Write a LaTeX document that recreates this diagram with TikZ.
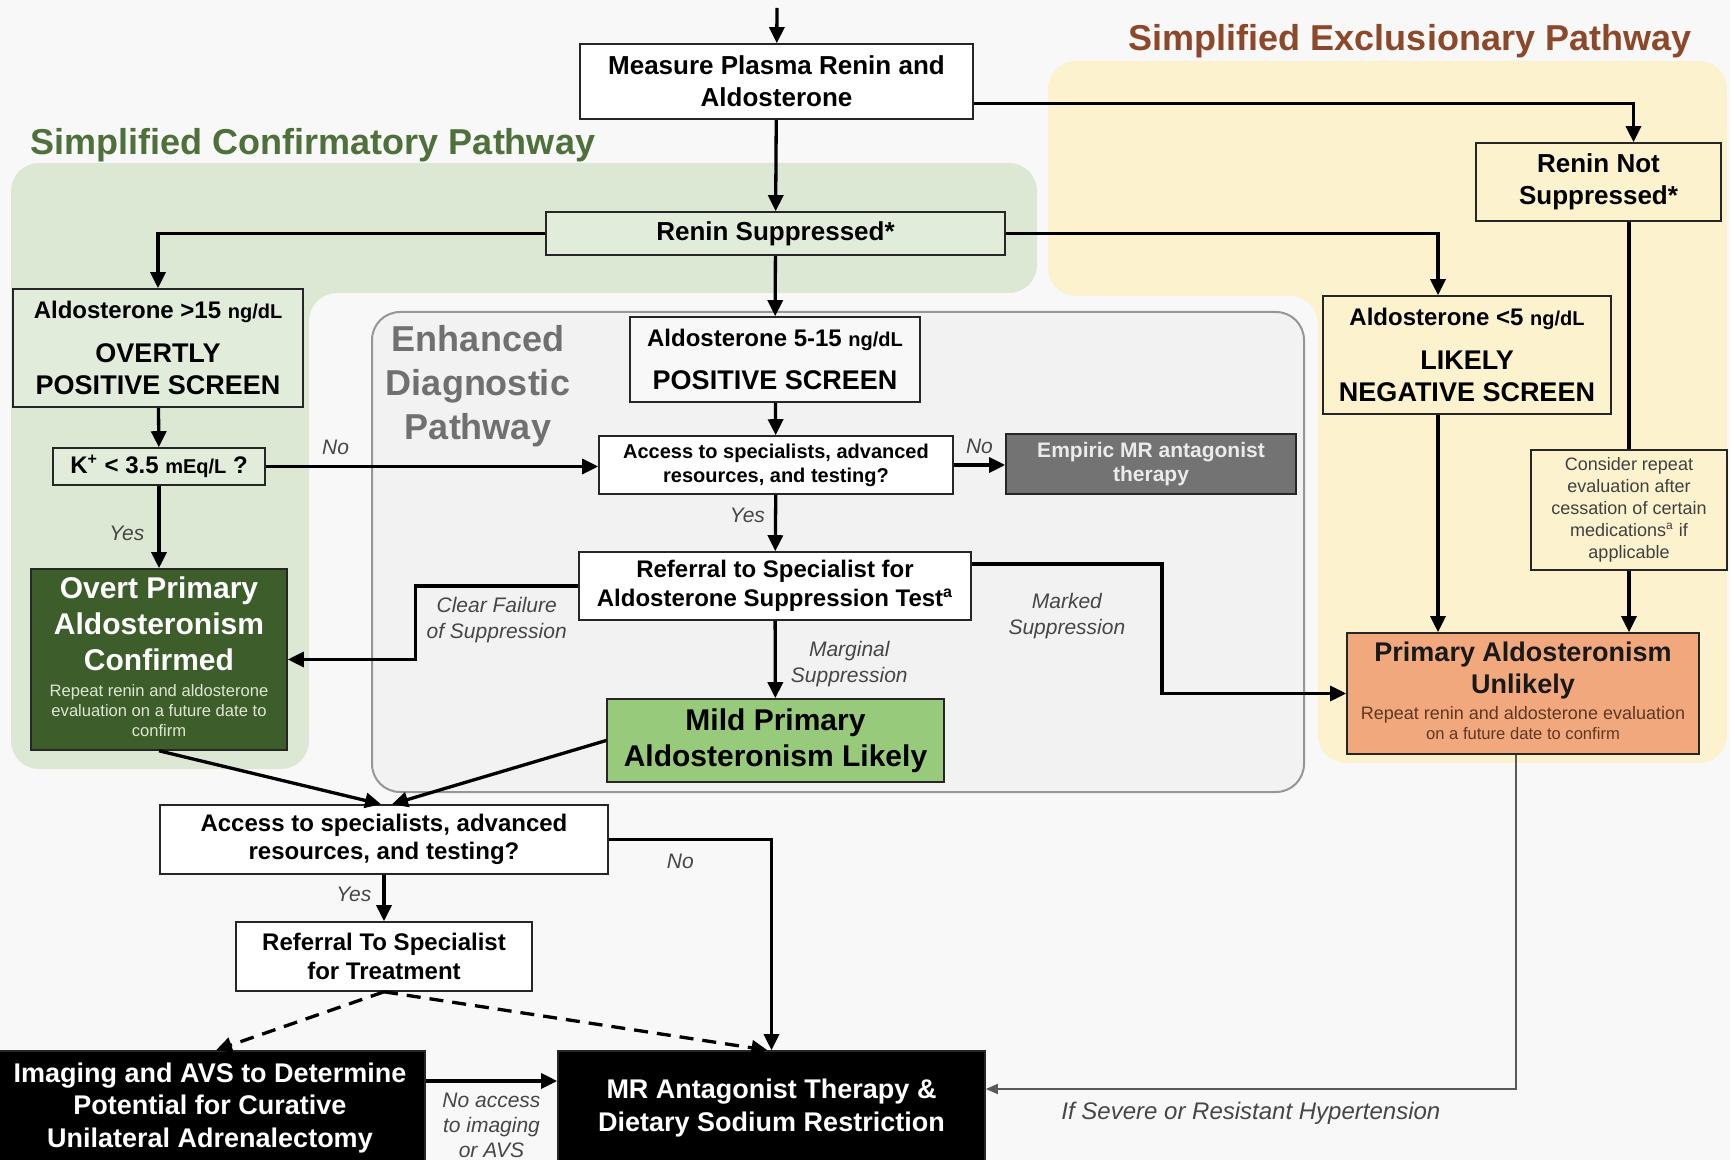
\documentclass[tikz,border=0pt]{standalone}
\usepackage{fontspec}
\setmainfont{Liberation Sans}
\usetikzlibrary{arrows.meta,positioning}

\definecolor{bggrey}{RGB}{248,248,248}
\definecolor{confgreen}{RGB}{221,232,212}
\definecolor{confboxgreen}{RGB}{226,236,218}
\definecolor{conftitlegreen}{RGB}{78,112,58}
\definecolor{exclyellow}{RGB}{252,242,205}
\definecolor{excltitlebrown}{RGB}{140,72,42}
\definecolor{enhfill}{RGB}{242,242,242}
\definecolor{enhborder}{RGB}{150,150,150}
\definecolor{enhtext}{RGB}{112,112,112}
\definecolor{overtgreen}{RGB}{61,94,42}
\definecolor{overtsub}{RGB}{222,230,212}
\definecolor{mildgreen}{RGB}{152,202,124}
\definecolor{empiricgrey}{RGB}{115,115,115}
\definecolor{unlikelyorange}{RGB}{241,168,124}
\definecolor{unlikelysub}{RGB}{95,55,35}
\definecolor{labelgrey}{RGB}{70,70,70}

\newcommand{\setfs}[2]{\fontsize{#1}{#2}\selectfont}
\newcommand{\subnote}[2]{{\normalfont\setfs{8.3}{10}\color{#1}\begin{tabular}[t]{@{}c@{}}#2\end{tabular}}}

\tikzset{
  box/.style={draw=black!85,line width=0.8pt,align=center,inner sep=0pt,fill=white,
    font=\bfseries\setfs{12}{14.3}},
  screen/.style={box,fill=confboxgreen},
  flow/.style={->,>={Triangle[length=8pt,width=7.5pt]},line width=1.65pt},
  dashflow/.style={flow,dash pattern=on 7pt off 4.5pt},
  thinflow/.style={->,>={Triangle[length=6pt,width=5pt]},line width=0.9pt,draw=black!65},
  lbl/.style={font=\itshape\setfs{10.5}{12.7},text=labelgrey,align=center,inner sep=2pt},
  pathtitle/.style={font=\bfseries\setfs{18}{22},align=center}
}

\begin{document}
\begin{tikzpicture}[x=0.5pt,y=-0.5pt]
  \useasboundingbox (0,0) rectangle (1730,1160);
  \fill[bggrey] (0,0) rectangle (1730,1160);

  % pathway regions
  \fill[confgreen,rounded corners=14pt] (11,163) -- (1037,163) -- (1037,293) -- (309,293)
    -- (309,769) -- (11,769) -- cycle;
  \fill[exclyellow,rounded corners=14pt] (1048,61) -- (1727,61) -- (1727,763) -- (1318,763)
    -- (1318,296) -- (1048,296) -- cycle;
  \draw[enhborder,fill=enhfill,line width=1pt,rounded corners=14pt] (372,312) rectangle (1304,792);

  \node[pathtitle,text=excltitlebrown] (excltitle) at (1410,41) {Simplified Exclusionary Pathway};
  \node[pathtitle,text=conftitlegreen] (conftitle) at (313,145) {Simplified Confirmatory Pathway};
  \node[pathtitle,text=enhtext] (enhtitle) at (478,386) {Enhanced\\Diagnostic\\Pathway};

  % boxes
  \node[box,minimum width=196.5pt,minimum height=37.5pt,font=\bfseries\setfs{13}{16}] (measure) at (776.5,81.5)
    {Measure Plasma Renin and\\Aldosterone};
  \node[screen,minimum width=229.5pt,minimum height=21.5pt,font=\bfseries\setfs{13}{16}] (reninsup) at (775.5,233.5)
    {Renin Suppressed*};
  \node[box,fill=exclyellow,minimum width=122.5pt,minimum height=39pt,font=\bfseries\setfs{13}{16}] (reninnot) at (1598.5,182)
    {Renin Not\\Suppressed*};
  \node[screen,minimum width=145pt,minimum height=59pt,font=\bfseries\setfs{13.5}{16}] (aldohigh) at (158,348)
    {{\setfs{12}{14}Aldosterone >15 {\setfs{10}{12}ng/dL}}\\[6pt]OVERTLY\\POSITIVE SCREEN};
  \node[screen,minimum width=106pt,minimum height=18.5pt] (kcheck) at (159,466.5)
    {K\textsuperscript{+} < 3.5 {\setfs{10}{12}mEq/L} ?};
  \node[box,fill=overtgreen,text=white,minimum width=128pt,minimum height=90.5pt,font=\bfseries\setfs{15}{18}] (overt) at (159,659.5)
    {Overt Primary\\Aldosteronism\\Confirmed\\[-5pt]\subnote{overtsub}{Repeat renin and aldosterone\\evaluation on a future date to\\confirm}};
  \node[box,fill=bggrey,minimum width=145pt,minimum height=42.5pt,font=\bfseries\setfs{13.5}{16}] (aldomid) at (775,359.5)
    {{\setfs{12}{14}Aldosterone 5-15 {\setfs{10}{12}ng/dL}}\\[5.5pt]POSITIVE SCREEN};
  \node[box,minimum width=177pt,minimum height=29pt,font=\bfseries\setfs{10}{12}] (accessmid) at (776,465)
    {Access to specialists, advanced\\resources, and testing?};
  \node[box,fill=empiricgrey,text=black!8,minimum width=145pt,minimum height=30pt,font=\bfseries\setfs{10.5}{12}] (empiric) at (1151,464)
    {Empiric MR antagonist\\therapy};
  \node[box,minimum width=196pt,minimum height=34pt] (suppress) at (775,586)
    {Referral to Specialist for\\Aldosterone Suppression Test\textsuperscript{a}};
  \node[box,fill=mildgreen,minimum width=168.5pt,minimum height=41.5pt,font=\bfseries\setfs{15}{18}] (mild) at (775.5,740.5)
    {Mild Primary\\Aldosteronism Likely};
  \node[box,fill=exclyellow,minimum width=144pt,minimum height=59pt,font=\bfseries\setfs{13.5}{16}] (aldolow) at (1467,355)
    {{\setfs{12}{14}Aldosterone <5 {\setfs{10}{12}ng/dL}}\\[6pt]LIKELY\\NEGATIVE SCREEN};
  \node[box,fill=exclyellow,minimum width=98pt,minimum height=60pt,font=\setfs{9}{11},text=black!75] (consider) at (1629,510)
    {Consider repeat\\evaluation after\\cessation of certain\\medications\textsuperscript{a} if\\applicable};
  \node[box,fill=unlikelyorange,text=black!90,minimum width=176pt,minimum height=60.5pt,font=\bfseries\setfs{13.5}{16}] (unlikely) at (1523,693.5)
    {Primary Aldosteronism\\Unlikely\\[-3pt]\subnote{unlikelysub}{\setfs{9}{11}Repeat renin and aldosterone evaluation\\on a future date to confirm}};
  \node[box,minimum width=224pt,minimum height=34.5pt] (accessbot) at (384,839.5)
    {Access to specialists, advanced\\resources, and testing?};
  \node[box,minimum width=148pt,minimum height=34.5pt] (reftreat) at (384,956.5)
    {Referral To Specialist\\for Treatment};
  \node[box,fill=black,text=white,minimum width=215pt,minimum height=57pt,font=\bfseries\setfs{13.5}{16.3}] (imaging) at (210,1108)
    {Imaging and AVS to Determine\\Potential for Curative\\Unilateral Adrenalectomy};
  \node[box,fill=black,text=white,minimum width=213.5pt,minimum height=57pt,font=\bfseries\setfs{13.5}{16.3}] (mrtherapy) at (771.5,1108)
    {MR Antagonist Therapy \&\\Dietary Sodium Restriction};

  % connectors
  \coordinate (start) at (777,8);
  \coordinate (markturn) at (1162,564);
  \draw[flow] (start) -- (measure);
  \draw[flow] (measure) -- (reninsup);
  \draw[flow] ([yshift=-11pt]measure.east) -| ([xshift=17.5pt]reninnot.north);
  \draw[flow] (reninsup.west) -| (aldohigh.north);
  \draw[flow] (reninsup) -- (aldomid);
  \draw[flow] (reninsup.east) -| ([xshift=-14.5pt]aldolow.north);
  \draw[line width=1.65pt] (reninnot.south -| consider.north) -- (consider.north);
  \draw[flow] (consider) -- (consider |- unlikely.north);
  \draw[flow] ([xshift=-14.5pt]aldolow.south) -- ([xshift=-14.5pt]aldolow.south |- unlikely.north);
  \draw[flow] (aldohigh) -- (kcheck);
  \draw[flow] (kcheck) -- node[lbl,pos=0.58,left=4.5pt] {Yes} (overt);
  \draw[flow] (kcheck.east) -- node[lbl,pos=0.21,above=3pt] {No} (kcheck.east -| accessmid.west);
  \draw[flow] (aldomid) -- (accessmid);
  \draw[flow] (accessmid.east) -- node[lbl,above=3pt] {No} (accessmid.east -| empiric.west);
  \draw[flow] (accessmid) -- node[lbl,pos=0.36,left=2.5pt] {Yes} (suppress);
  \draw[flow] (suppress.west) -- node[lbl,below=3pt] {Clear Failure\\of Suppression} ++(-163,0) |- (overt.east);
  \draw[flow] (suppress) -- node[lbl,pos=0.56,right=5pt] {Marginal\\Suppression} (mild);
  \draw[flow] ([yshift=11pt]suppress.east) -- node[lbl,below=12pt] {Marked\\Suppression} (markturn) |- (unlikely.west);
  \draw[flow] (overt.south) -- ([xshift=-1.5pt]accessbot.north);
  \draw[flow] (mild.west) -- ([xshift=4pt]accessbot.north);
  \draw[flow] (accessbot) -- node[lbl,pos=0.42,left=3.5pt] {Yes} (reftreat);
  \draw[flow] (accessbot.east) -| node[lbl,pos=0.22,below=4.5pt] {No} (mrtherapy.north);
  \draw[dashflow] (reftreat.south) -- ([xshift=3pt]imaging.north);
  \draw[dashflow] (reftreat.south) -- ([xshift=-2pt]mrtherapy.north);
  \draw[flow] ([yshift=13.5pt]imaging.east) -- node[lbl,below=3pt] {No access\\to imaging\\or AVS}
    ([yshift=13.5pt]imaging.east -| mrtherapy.west);
  \draw[thinflow] ([xshift=-3.5pt]unlikely.south) |- node[lbl,pos=0.75,below=4pt,font=\itshape\setfs{12}{14}]
    {If Severe or Resistant Hypertension} ([yshift=9.5pt]mrtherapy.east);
\end{tikzpicture}
\end{document}
